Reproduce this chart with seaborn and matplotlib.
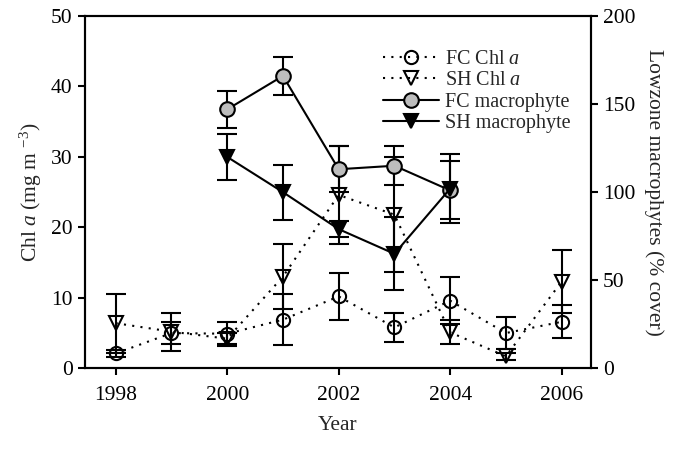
import matplotlib
matplotlib.use("Agg")
import matplotlib.pyplot as plt
from matplotlib.lines import Line2D
import seaborn as sns

years_chl = [1998, 1999, 2000, 2001, 2002, 2003, 2004, 2005, 2006]
fc_chl = [2.1, 5.0, 4.9, 6.9, 10.2, 5.8, 9.6, 5.0, 6.6]
fc_chl_err = [0.5, 1.5, 1.7, 3.6, 3.3, 2.1, 3.3, 2.3, 2.35]
sh_chl = [6.4, 5.2, 4.2, 13.0, 24.6, 21.8, 5.1, 1.7, 12.3]
sh_chl_err = [4.2, 2.7, 0.8, 4.6, 6.9, 8.2, 1.7, 0.5, 4.5]

years_mac = [2000, 2001, 2002, 2003, 2004]
fc_mac = [147, 166, 113, 115, 101]
fc_mac_err = [10.5, 11, 13, 11, 16.5]
sh_mac = [120, 100, 79, 65, 102]
sh_mac_err = [13, 15.6, 4.5, 20.8, 19.5]

xticks = [1998, 2000, 2002, 2004, 2006]
left_ticks = [0, 10, 20, 30, 40, 50]
right_ticks = [0, 50, 100, 150, 200]

sns.set_style("ticks")
plt.rcParams["font.family"] = ["Liberation Serif", "DejaVu Serif"]
plt.rcParams["mathtext.fontset"] = "custom"
plt.rcParams["mathtext.rm"] = "Liberation Serif"
plt.rcParams["mathtext.it"] = "Liberation Serif:italic"
plt.rcParams["mathtext.bf"] = "Liberation Serif:bold"

fig = plt.figure(figsize=(6.75, 4.5), dpi=100)
ax = fig.add_axes([0.126, 0.1816, 0.749, 0.7828])
ax2 = ax.twinx()

dot = (0, (1, 3))
lw = 1.5
ms = 9.5
cap = 7

# Chl a series (left axis)
ax.errorbar(years_chl, fc_chl, yerr=fc_chl_err, fmt="none", ecolor="black",
            elinewidth=lw, capsize=cap, capthick=lw, zorder=2)
ax.errorbar(years_chl, sh_chl, yerr=sh_chl_err, fmt="none", ecolor="black",
            elinewidth=lw, capsize=cap, capthick=lw, zorder=2)
sns.lineplot(x=years_chl, y=fc_chl, ax=ax, color="black", linestyle=dot, lw=lw,
             marker="o", markersize=ms, markerfacecolor="none",
             markeredgecolor="black", markeredgewidth=lw, zorder=3)
sns.lineplot(x=years_chl, y=sh_chl, ax=ax, color="black", linestyle=dot, lw=lw,
             marker="v", markersize=ms + 0.5, markerfacecolor="none",
             markeredgecolor="black", markeredgewidth=lw, zorder=3)

# Macrophyte series (right axis)
ax2.errorbar(years_mac, fc_mac, yerr=fc_mac_err, fmt="none", ecolor="black",
             elinewidth=lw, capsize=cap, capthick=lw, zorder=2)
ax2.errorbar(years_mac, sh_mac, yerr=sh_mac_err, fmt="none", ecolor="black",
             elinewidth=lw, capsize=cap, capthick=lw, zorder=2)
sns.lineplot(x=years_mac, y=fc_mac, ax=ax2, color="black", linestyle="-", lw=lw,
             marker="o", markersize=ms + 1, markerfacecolor="#bdbdbd",
             markeredgecolor="black", markeredgewidth=lw, zorder=3)
sns.lineplot(x=years_mac, y=sh_mac, ax=ax2, color="black", linestyle="-", lw=lw,
             marker="v", markersize=ms + 1, markerfacecolor="black",
             markeredgecolor="black", markeredgewidth=lw, zorder=3)

ax.set_xlim(1997.45, 2006.52)
ax.set_ylim(0, 50)
ax2.set_ylim(0, 200)
ax.set_xticks(xticks)
ax.set_yticks(left_ticks)
ax2.set_yticks(right_ticks)

fs = 15.5
for a in (ax, ax2):
    for s in a.spines.values():
        s.set_linewidth(1.5)
        s.set_color("black")
    a.tick_params(direction="out", length=5, width=1.5, labelsize=fs, colors="black")
ax.tick_params(axis="x", pad=8)
ax.tick_params(axis="y", pad=4)
ax2.tick_params(axis="y", pad=4)

ax.set_xlabel("Year", fontsize=fs, labelpad=8)
ax.set_ylabel(r"Chl $\it{a}$ (mg m $^{-3}$)", fontsize=fs, labelpad=5)
ax2.set_ylabel("Lowzone macrophytes (% cover)", fontsize=fs, rotation=270, labelpad=20)

handles = [
    Line2D([], [], color="black", linestyle=dot, lw=lw, marker="o", markersize=ms,
           markerfacecolor="none", markeredgecolor="black", markeredgewidth=lw),
    Line2D([], [], color="black", linestyle=dot, lw=lw, marker="v", markersize=ms + 0.5,
           markerfacecolor="none", markeredgecolor="black", markeredgewidth=lw),
    Line2D([], [], color="black", linestyle="-", lw=lw, marker="o", markersize=ms + 1,
           markerfacecolor="#bdbdbd", markeredgecolor="black", markeredgewidth=lw),
    Line2D([], [], color="black", linestyle="-", lw=lw, marker="v", markersize=ms + 1,
           markerfacecolor="black", markeredgecolor="black", markeredgewidth=lw),
]
labels = [r"FC Chl $\it{a}$", r"SH Chl $\it{a}$", "FC macrophyte", "SH macrophyte"]
ax2.legend(handles, labels, loc="upper left", bbox_to_anchor=(0.589, 0.905),
           frameon=False, fontsize=14.5, borderpad=0, borderaxespad=0,
           handlelength=2.8, handletextpad=0.3, labelspacing=0.12)

fig.savefig("out.png", dpi=100)
